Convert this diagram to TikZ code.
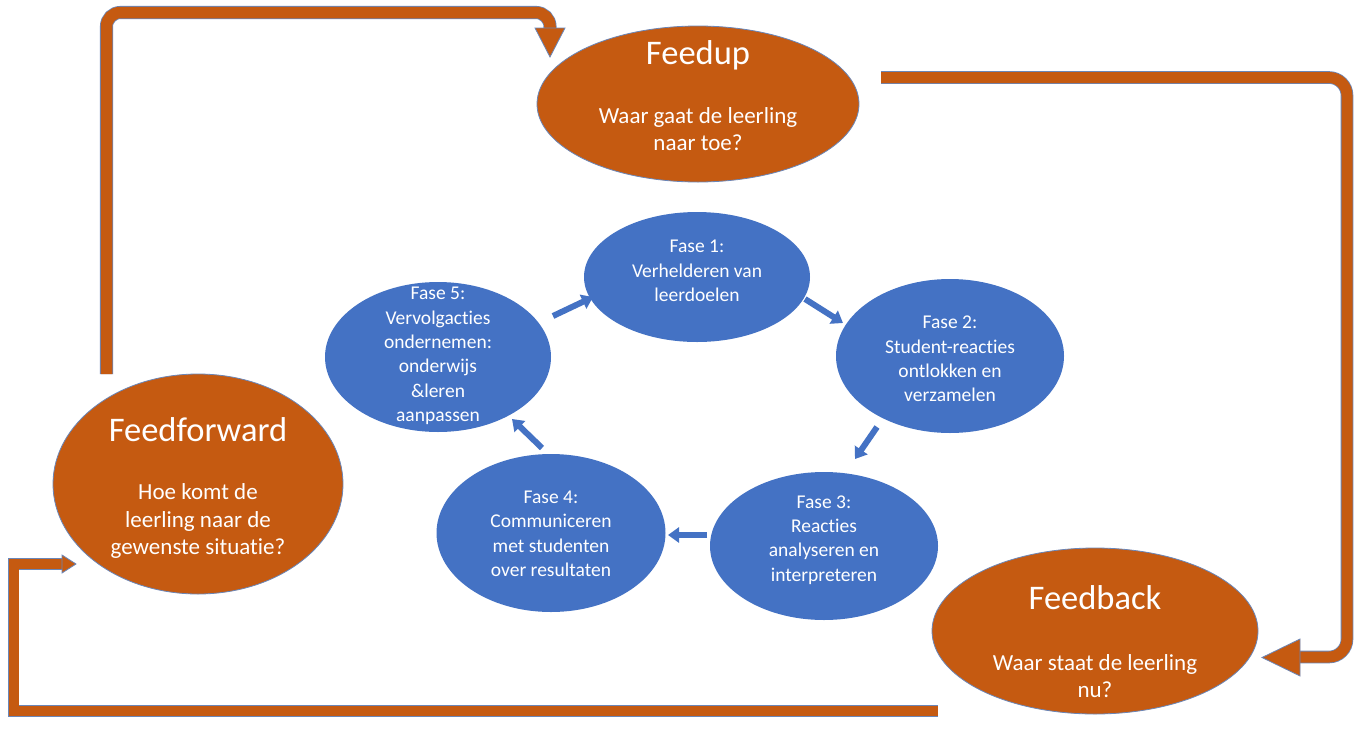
\documentclass[tikz,border=0pt]{standalone}
\usepackage{fontspec}
\setmainfont{Carlito}[Ligatures={NoCommon,NoRare}]
\usetikzlibrary{arrows.meta,shapes.geometric,calc}
\definecolor{orng}{HTML}{C55A11}
\definecolor{blu}{HTML}{4472C4}
\definecolor{edgeblue}{HTML}{6A86B8}
\newcommand\orgshaft[2]{%
  \draw[edgeblue, line width=#1+1.6pt] #2;
  \draw[orng, line width=#1] #2;}
\begin{document}
\begin{tikzpicture}[x=1pt,y=-1pt,
  oell/.style={ellipse, fill=orng, draw=edgeblue, line width=0.8pt, inner sep=0pt},
  bell/.style={ellipse, fill=blu, inner sep=0pt},
  ttl/.style={text=white, font=\fontsize{34.5}{40}\selectfont, align=center},
  sub/.style={text=white, font=\fontsize{23}{27.5}\selectfont, align=center},
  btxt/.style={text=white, font=\fontsize{19.5}{24.4}\selectfont, align=center},
  barrow/.style={draw=blu, line width=6pt, -{Triangle[width=15pt,length=11pt]}},
  ohead/.style={fill=orng, draw=edgeblue, line width=0.8pt, line join=miter},
]
\useasboundingbox[fill=white] (0,0) rectangle (1360,737);

% orange ellipses
\node[oell, minimum width=322pt, minimum height=156pt] (fu) at (698,104) {};
\node[oell, minimum width=290pt, minimum height=220pt] (ff) at (198,484) {};
\node[oell, minimum width=326pt, minimum height=166pt] (fb) at (1095,631) {};

\node[ttl] (fut) at ($(fu)+(0,-49)$) {Feedup};
\node[sub] (fus) at ($(fu)+(0,25)$) {Waar gaat de leerling\\naar toe?};
\node[ttl] (fft) at ($(ff)+(0,-54)$) {Feedforward};
\node[sub] (ffs) at ($(ff)+(0,37)$) {Hoe komt de\\leerling naar de\\gewenste situatie?};
\node[ttl] (fbt) at ($(fb)+(0,-33)$) {Feedback};
\node[sub] (fbs) at ($(fb)+(0,45)$) {Waar staat de leerling\\nu?};

% blue ellipses
\node[bell, minimum width=226pt, minimum height=130pt] (f1) at (697,277) {};
\node[bell, minimum width=228pt, minimum height=154pt] (f2) at (950,356) {};
\node[bell, minimum width=228pt, minimum height=148pt] (f3) at (824,546) {};
\node[bell, minimum width=229pt, minimum height=158pt] (f4) at (551,533) {};
\node[bell, minimum width=226pt, minimum height=150pt] (f5) at (438,357) {};

\node[btxt] (t1) at (697,271) {Fase 1:\\Verhelderen van\\leerdoelen};
\node[btxt] (t2) at (950,359) {Fase 2:\\Student-reacties\\ontlokken en\\verzamelen};
\node[btxt] (t3) at (824,540) {Fase 3:\\Reacties\\analyseren en\\interpreteren};
\node[btxt] (t4) at (551,534) {Fase 4:\\Communiceren\\met studenten\\over resultaten};
\node[btxt] (t5) at (438,356) {Fase 5:\\Vervolgacties\\ondernemen:\\onderwijs\\\&leren\\aanpassen};

% blue arrows
\coordinate (b51) at (553,316); \coordinate (b15) at (593,297);
\coordinate (b12) at (805,299); \coordinate (b21) at (843,323);
\coordinate (b23) at (877,427); \coordinate (b32) at (855,459);
\coordinate (b34) at (707,535); \coordinate (b43) at (668,535);
\coordinate (b45) at (542,448); \coordinate (b54) at (512,419);
\draw[barrow] (b51) -- (b15);
\draw[barrow] (b12) -- (b21);
\draw[barrow] (b23) -- (b32);
\draw[barrow] (b34) -- (b43);
\draw[barrow] (b45) -- (b54);

% orange loop arrows
\coordinate (a1s) at (106.5,374);
\coordinate (a1c) at (550,12.5);
\coordinate (a1e) at (550,30);
\orgshaft{11.5pt}{[rounded corners=14pt] (a1s) |- (a1c) -- (a1e)}
\filldraw[ohead] (535,28) -- (565,28) -- (550,57) -- cycle;

\coordinate (a2s) at (881,77.5);
\coordinate (a2c) at (1347,77.5);
\coordinate (a2d) at (1347,657);
\coordinate (a2e) at (1299,657);
\orgshaft{11pt}{[rounded corners=18pt] (a2s) -- (a2c) -- (a2d) -- (a2e)}
\filldraw[ohead] (1300,639) -- (1300,676) -- (1262,657.5) -- cycle;

\coordinate (a3s) at (938,711);
\coordinate (a3c) at (13.5,711);
\coordinate (a3d) at (13.5,564);
\coordinate (a3e) at (63,564);
\orgshaft{10pt}{(a3s) -- (a3c) -- (a3d) -- (a3e)}
\filldraw[ohead] (62,555) -- (62,573) -- (76,564) -- cycle;
\end{tikzpicture}
\end{document}
